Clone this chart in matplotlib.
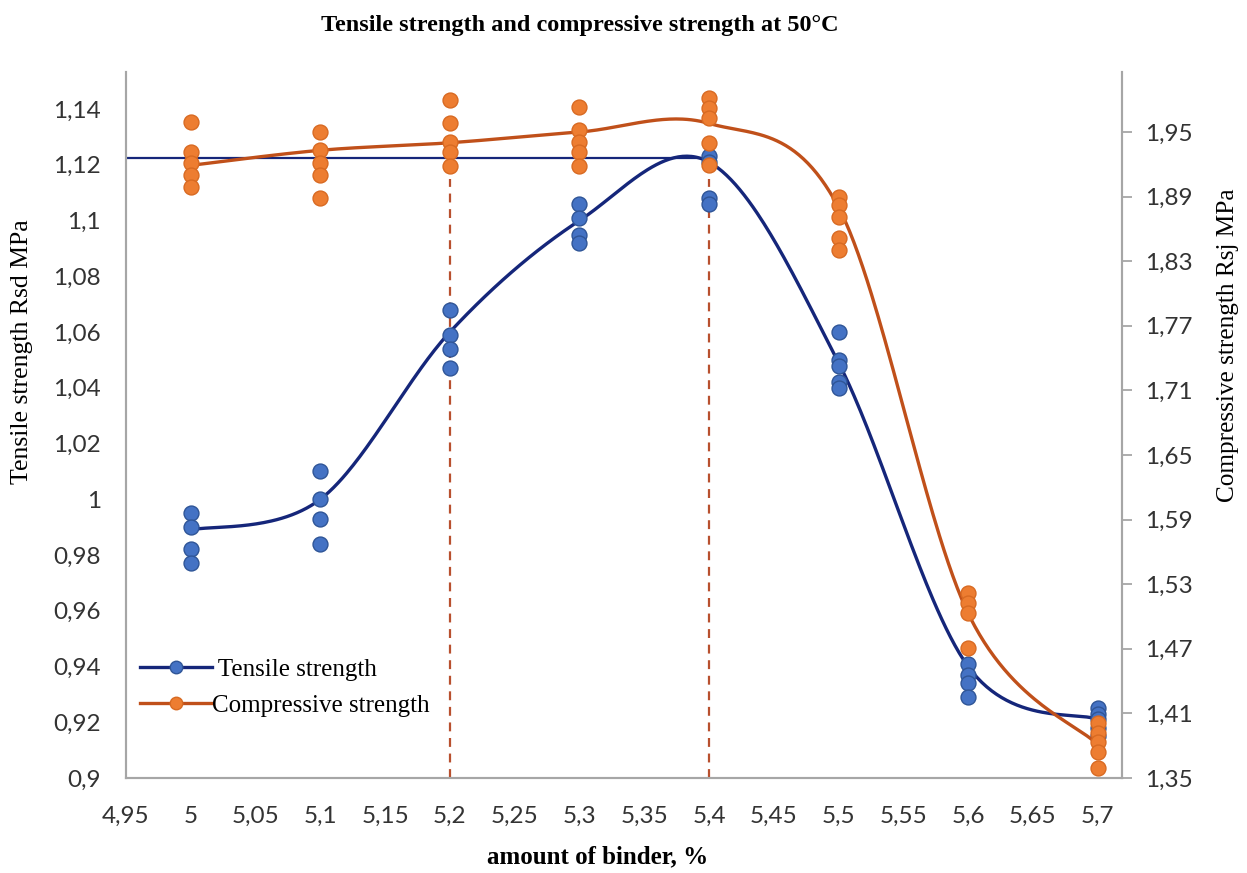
#!/usr/bin/env python3
"""Tensile / compressive strength vs amount of binder at 50 C."""

import matplotlib
matplotlib.use('Agg')
import matplotlib.pyplot as plt
from matplotlib.lines import Line2D
from matplotlib.ticker import FuncFormatter
import numpy as np

# amount of binder, %
binder = [5.0, 5.1, 5.2, 5.3, 5.4, 5.5, 5.6, 5.7]

# individual tensile measurements (left axis, MPa)
tensile_samples = [
    [0.995, 0.990, 0.982, 0.977],
    [1.010, 1.000, 0.993, 0.984],
    [1.068, 1.059, 1.054, 1.047],
    [1.106, 1.101, 1.095, 1.092],
    [1.123, 1.121, 1.108, 1.106],
    [1.060, 1.050, 1.048, 1.042, 1.040],
    [0.941, 0.937, 0.934, 0.929],
    [0.925, 0.923, 0.921, 0.918, 0.915],
]
# smoothed mean curve of tensile strength
tensile_curve = [0.989, 1.000, 1.060, 1.100, 1.121, 1.049, 0.940, 0.921]

# individual compressive measurements (right axis, MPa)
compressive_samples = [
    [1.959, 1.931, 1.921, 1.910, 1.899],
    [1.950, 1.933, 1.921, 1.910, 1.889],
    [1.980, 1.958, 1.941, 1.931, 1.918],
    [1.973, 1.952, 1.941, 1.931, 1.918],
    [1.982, 1.972, 1.963, 1.940, 1.919],
    [1.890, 1.882, 1.871, 1.852, 1.840],
    [1.522, 1.513, 1.503, 1.471],
    [1.401, 1.392, 1.383, 1.374, 1.359],
]
compressive_curve = [1.919, 1.933, 1.940, 1.950, 1.958, 1.880, 1.503, 1.381]

tensile_max = 1.1224
tensile_max_x = [4.95, 5.395]
optimum_binder = [5.2, 5.4]
optimum_top = 1.115

x_ticks = [4.95, 5.0, 5.05, 5.1, 5.15, 5.2, 5.25, 5.3, 5.35, 5.4, 5.45, 5.5, 5.55, 5.6, 5.65, 5.7]
left_ticks = [0.9, 0.92, 0.94, 0.96, 0.98, 1.0, 1.02, 1.04, 1.06, 1.08, 1.1, 1.12, 1.14]
right_ticks = [1.35, 1.41, 1.47, 1.53, 1.59, 1.65, 1.71, 1.77, 1.83, 1.89, 1.95]

BLUE_LINE = '#15267a'
BLUE_MARK = '#4472c4'
BLUE_EDGE = '#2f5597'
ORANGE_LINE = '#c0501a'
ORANGE_MARK = '#ed7d31'
ORANGE_EDGE = '#d86a22'
DASH = '#b8502e'
SPINE = '#a6a6a6'

SERIF = 'Liberation Serif'
TICKFONT = 'Lato'


def excel_smooth(x, y, n=60):
    """Excel-like smoothed line (Catmull-Rom as cubic Bezier)."""
    pts = np.column_stack([x, y]).astype(float)
    ext = np.vstack([pts[0], pts, pts[-1]])
    t = np.linspace(0, 1, n)[:, None]
    out = []
    for i in range(len(pts) - 1):
        p0, p1, p2, p3 = ext[i], ext[i + 1], ext[i + 2], ext[i + 3]
        c1 = p1 + (p2 - p0) / 6.0
        c2 = p2 - (p3 - p1) / 6.0
        seg = ((1 - t) ** 3) * p1 + 3 * ((1 - t) ** 2) * t * c1 \
            + 3 * (1 - t) * t ** 2 * c2 + t ** 3 * p2
        out.append(seg if i == 0 else seg[1:])
    out = np.vstack(out)
    return out[:, 0], out[:, 1]


def comma_fmt(v, pos=None):
    return f'{round(v, 3):g}'.replace('.', ',')


fig = plt.figure(figsize=(12.47, 8.73), dpi=100)
ax = fig.add_axes([0.101, 0.1088, 0.7987, 0.8087])
ax2 = ax.twinx()

# tensile (left axis)
sx, sy = excel_smooth(binder, tensile_curve)
ax.plot(sx, sy, color=BLUE_LINE, lw=2.4, zorder=3)
for xv, vals in zip(binder, tensile_samples):
    ax.scatter([xv] * len(vals), vals, s=115, color=BLUE_MARK,
               edgecolors=BLUE_EDGE, linewidths=1, zorder=4)
ax.plot(tensile_max_x, [tensile_max, tensile_max], color=BLUE_LINE, lw=1.6, zorder=2)
for xv in optimum_binder:
    ax.plot([xv, xv], [0.9, optimum_top], color=DASH, lw=1.6,
            ls=(0, (4, 3)), zorder=2)

# compressive (right axis)
cx, cy = excel_smooth(binder, compressive_curve)
ax2.plot(cx, cy, color=ORANGE_LINE, lw=2.4, zorder=3)
for xv, vals in zip(binder, compressive_samples):
    ax2.scatter([xv] * len(vals), vals, s=115, color=ORANGE_MARK,
                edgecolors=ORANGE_EDGE, linewidths=1, zorder=4)

ax.set_xlim(4.95, 5.7187)
ax.set_ylim(0.9, 1.1533)
ax2.set_ylim(1.35, 2.0057)

ax.set_xticks(x_ticks)
ax.set_yticks(left_ticks)
ax2.set_yticks(right_ticks)
for a in (ax, ax2):
    a.xaxis.set_major_formatter(FuncFormatter(comma_fmt))
    a.yaxis.set_major_formatter(FuncFormatter(comma_fmt))

ax.tick_params(axis='x', length=0, pad=20, labelsize=17.5, labelcolor='#333333')
ax.tick_params(axis='y', length=0, pad=18, labelsize=17.5, labelcolor='#333333')
ax2.tick_params(axis='y', length=7, width=1.3, color=SPINE, pad=10,
                labelsize=17.5, labelcolor='#333333')
for a in (ax, ax2):
    for lab in a.get_xticklabels() + a.get_yticklabels():
        lab.set_fontfamily(TICKFONT)
    a.spines['top'].set_visible(False)
    for side in ('left', 'bottom', 'right'):
        a.spines[side].set_color(SPINE)
        a.spines[side].set_linewidth(1.5)

fig.text(0.465, 0.971, 'Tensile strength and compressive strength at 50°C',
         ha='center', va='center', fontsize=17.5, fontweight='bold', family=SERIF)
fig.text(0.479, 0.018, 'amount of binder, %', ha='center', va='center',
         fontsize=18, fontweight='bold', family=SERIF)
fig.text(0.018, 0.597, 'Tensile strength Rsd MPa', ha='center', va='center',
         rotation=90, fontsize=18.5, family=SERIF)
fig.text(0.985, 0.605, 'Compressive strength Rsj MPa', ha='center', va='center',
         rotation=90, fontsize=18.2, family=SERIF)

handles = [
    Line2D([], [], color=BLUE_LINE, lw=2.4, marker='o', ms=9,
           markerfacecolor=BLUE_MARK, markeredgecolor=BLUE_EDGE),
    Line2D([], [], color=ORANGE_LINE, lw=2.4, marker='o', ms=9,
           markerfacecolor=ORANGE_MARK, markeredgecolor=ORANGE_EDGE),
]
ax2.legend(handles, [' Tensile strength', 'Compressive strength'],
           loc='upper left', bbox_to_anchor=(-0.006, 0.198), frameon=False,
           handlelength=2.9, handletextpad=0.0, labelspacing=0.55,
           borderpad=0.3, prop={'family': SERIF, 'size': 18})

fig.savefig('out.png', dpi=100)
